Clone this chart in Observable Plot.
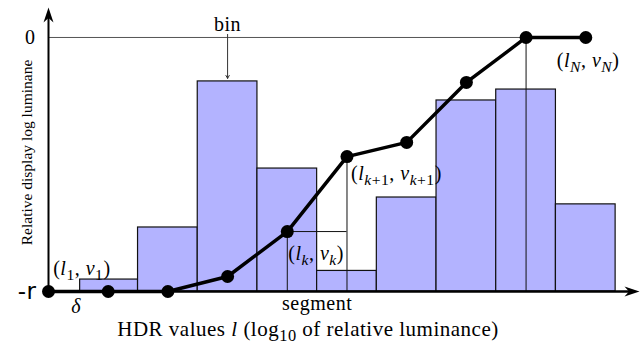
<!DOCTYPE html>
<html><head><meta charset="utf-8">
<script src="https://cdn.jsdelivr.net/npm/d3@7"></script>
<script src="https://cdn.jsdelivr.net/npm/@observablehq/plot@0.6"></script>
<style>html,body{margin:0;padding:0;background:#fff}svg{display:block}</style>
</head><body><div id="chart"></div>
<script>
// ---- data ----
const binEdges = [0.53, 1.5, 2.5, 3.5, 4.5, 5.5, 6.5, 7.5, 8.5, 9.5];
const binHeights = [0.047, 0.252, 0.827, 0.484, 0.081, 0.370, 0.752, 0.795, 0.343];
const nodeL = [0, 1, 2, 3, 4, 5, 6, 7, 8, 9];
const nodeV = [0, 0, 0, 0.059, 0.236, 0.531, 0.587, 0.823, 1, 1];
const yTicks = [0, 1];
const yTickLabels = ["-r", "0"];
const pointLabels = ["(*l*_{1}, *v*_{1})", "(*l*_{*k*}, *v*_{*k*})", "(*l*_{*k*+1}, *v*_{*k*+1})", "(*l*_{*N*}, *v*_{*N*})"];
const pointLabelNodes = [1, 4, 5, 9];
const segK = 4;      // segment between node k and k+1
const binMarked = 2; // bin pointed at by "bin"
const xTitle = "HDR values *l* (log_{10} of relative luminance)";
const yTitle = "Relative display log luminane";

const bins = binHeights.map((h, i) => ({x1: binEdges[i], x2: binEdges[i + 1], h}));
const nodes = nodeL.map((l, i) => ({l, v: nodeV[i]}));

const serif = "'Liberation Serif', 'Times New Roman', serif";
const stealth = {draw(ctx) { ctx.moveTo(0, 0); ctx.lineTo(-5, 15); ctx.lineTo(0, 10.5); ctx.lineTo(5, 15); ctx.closePath(); }};

const xMax = 9.9, yMax = 1.118;
const nk = nodes[segK], nk1 = nodes[segK + 1], nN = nodes[nodes.length - 2];
const binMid = (binEdges[binMarked] + binEdges[binMarked + 1]) / 2;

const labelOffsets = [[-55, -23], [1, 22], [4, 17], [-29, 23]];

const marks = [
  Plot.rect(bins, {x1: "x1", x2: "x2", y1: 0, y2: "h", fill: "#b3b3ff", stroke: "#111", strokeWidth: 1.2}),
  Plot.ruleY([1], {x1: 0, x2: nN.l, stroke: "#555", strokeWidth: 1}),
  Plot.ruleX([nN], {x: "l", y1: 0, y2: "v", stroke: "#111", strokeWidth: 1}),
  Plot.ruleX([nk, nk1], {x: "l", y1: 0, y2: "v", stroke: "#111", strokeWidth: 1}),
  Plot.ruleY([nk], {y: "v", x1: nk.l, x2: nk1.l, stroke: "#111", strokeWidth: 1}),
  Plot.arrow([{b: binMid}], {x1: "b", x2: "b", y1: 1.012, y2: binHeights[binMarked] + 0.012, stroke: "#333", strokeWidth: 1, headLength: 5}),
  Plot.ruleY([0], {x1: 0, x2: xMax - 0.15, stroke: "#000", strokeWidth: 2.4}),
  Plot.ruleX([0], {y1: 0, y2: yMax - 0.04, stroke: "#000", strokeWidth: 2}),
  Plot.dot([{x: xMax, y: 0}], {x: "x", y: "y", symbol: stealth, r: 5, fill: "#000", stroke: null, rotate: 90}),
  Plot.dot([{x: 0, y: yMax}], {x: "x", y: "y", symbol: stealth, r: 5, fill: "#000", stroke: null, rotate: 0}),
  Plot.line(nodes, {x: "l", y: "v", stroke: "#000", strokeWidth: 3.5}),
  Plot.dot(nodes, {x: "l", y: "v", r: 6.5, fill: "#000", stroke: null}),
  Plot.axisY([yTicks[1]], {tickFormat: () => yTickLabels[1], tickSize: 0, tickPadding: 13, fontSize: 20, fontFamily: serif}),
  Plot.axisY([yTicks[0]], {tickFormat: () => yTickLabels[0], tickSize: 0, tickPadding: 12, fontSize: 23, fontFamily: "'DejaVu Sans', sans-serif"}),
  Plot.text(["bin"], {x: binMid, y: 1, dy: -13, fontSize: 20, fontFamily: serif}),
  Plot.text(["δ"], {x: binEdges[0], y: 0, dx: -4, dy: 15, fontSize: 20, fontStyle: "italic", fontFamily: serif}),
  Plot.text(["segment"], {x: (nk.l + nk1.l) / 2, y: 0, dy: 12, fontSize: 20, fontFamily: serif}),
  ...pointLabels.map((t, i) => Plot.text([t], {x: nodes[pointLabelNodes[i]].l, y: nodes[pointLabelNodes[i]].v, dx: labelOffsets[i][0], dy: labelOffsets[i][1], textAnchor: "start", fontSize: 20, fontFamily: serif})),
  Plot.text([xTitle], {frameAnchor: "bottom", dx: -36, dy: 44, fontSize: 21, fontFamily: serif}),
  Plot.text([yTitle], {frameAnchor: "left", textAnchor: "middle", rotate: -90, dx: -21, dy: 3, fontSize: 15.5, fontFamily: serif})
];

const svg = Plot.plot({
  width: 640, height: 352,
  marginLeft: 48, marginRight: 1, marginTop: 7, marginBottom: 61,
  x: {domain: [0, xMax], axis: null},
  y: {domain: [0, yMax], axis: null},
  style: {background: "#fff", fontFamily: serif, color: "#000", overflow: "visible", letterSpacing: "0.5px"},
  marks
});
document.getElementById("chart").appendChild(svg);

// rich text: *italic* and _{subscript}
function parseRich(s) {
  const segs = []; let italic = false, sub = false, buf = "";
  const flush = () => { if (buf) segs.push({text: buf, italic, sub}); buf = ""; };
  for (let i = 0; i < s.length; i++) {
    const c = s[i];
    if (c === "*") { flush(); italic = !italic; }
    else if (c === "_" && s[i + 1] === "{") { flush(); sub = true; i++; }
    else if (c === "}" && sub) { flush(); sub = false; }
    else buf += c;
  }
  flush();
  return segs;
}
d3.select(svg).selectAll("text").each(function() {
  const t = this.textContent;
  if (t === yTitle) { this.style.letterSpacing = "0px"; return; }
  if (!/[*]|_\{/.test(t)) return;
  const fs = parseFloat(getComputedStyle(this).fontSize) || 20;
  const sel = d3.select(this);
  sel.text(null);
  for (const s of parseRich(t)) {
    const ts = sel.append("tspan").text(s.text);
    if (s.italic) ts.attr("font-style", "italic");
    if (s.sub) ts.attr("font-size", (fs * 0.78) + "px").attr("baseline-shift", (-fs * 0.25) + "px");
  }
});
</script>
</body></html>
